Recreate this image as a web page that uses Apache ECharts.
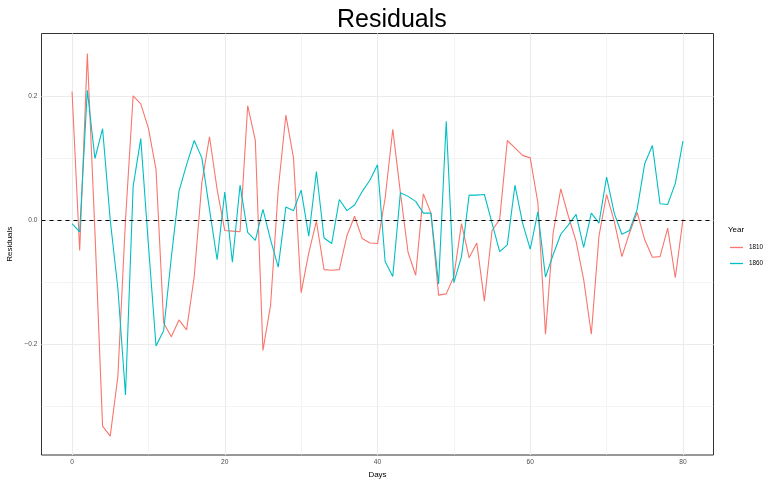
<!DOCTYPE html>
<html><head><meta charset="utf-8">
<script src="https://cdn.jsdelivr.net/npm/echarts@6/dist/echarts.min.js"></script>
<style>html,body{margin:0;padding:0;background:#fff}#c{width:769px;height:479px}</style>
</head><body><div id="c"></div>
<script>
const days = [0,1,2,3,4,5,6,7,8,9,10,11,12,13,14,15,16,17,18,19,20,21,22,23,24,25,26,27,28,29,30,31,32,33,34,35,36,37,38,39,40,41,42,43,44,45,46,47,48,49,50,51,52,53,54,55,56,57,58,59,60,61,62,63,64,65,66,67,68,69,70,71,72,73,74,75,76,77,78,79,80];
const years = ['1810', '1860'];
const res1810 = [0.207,-0.049,0.268,-0.02,-0.332,-0.348,-0.252,0.0,0.2,0.187,0.148,0.081,-0.166,-0.188,-0.161,-0.177,-0.091,0.06,0.134,0.049,-0.017,-0.018,-0.019,0.184,0.128,-0.21,-0.137,0.049,0.169,0.1,-0.117,-0.053,-0.002,-0.08,-0.081,-0.08,-0.025,0.006,-0.03,-0.037,-0.038,0.035,0.146,0.044,-0.052,-0.089,0.042,0.011,-0.121,-0.119,-0.091,-0.006,-0.061,-0.037,-0.131,-0.017,0.001,0.128,0.116,0.104,0.1,0.028,-0.184,-0.021,0.05,0.006,-0.034,-0.096,-0.184,-0.026,0.041,-0.002,-0.059,-0.021,0.012,-0.032,-0.06,-0.059,-0.013,-0.093,0.001];
const res1860 = [-0.006,-0.019,0.209,0.099,0.147,0.0,-0.11,-0.282,0.054,0.131,-0.04,-0.203,-0.178,-0.06,0.046,0.089,0.128,0.1,0.017,-0.064,0.045,-0.068,0.056,-0.02,-0.033,0.017,-0.032,-0.076,0.021,0.015,0.048,-0.026,0.078,-0.029,-0.038,0.033,0.015,0.024,0.046,0.064,0.089,-0.067,-0.091,0.044,0.038,0.03,0.011,0.011,-0.103,0.159,-0.101,-0.059,0.04,0.04,0.041,-0.005,-0.051,-0.04,0.056,-0.005,-0.047,0.013,-0.092,-0.056,-0.023,-0.008,0.009,-0.044,0.011,-0.005,0.069,0.011,-0.023,-0.017,0.017,0.091,0.12,0.026,0.025,0.059,0.127];
const xTicks = [0, 20, 40, 60, 80];
const xMinor = [10, 30, 50, 70];
const yTicks = [-0.2, 0, 0.2];
const yLabels = ['\u22120.2', '0.0', '0.2'];
const yMinor = [-0.3, -0.1, 0.1];
const refLine = 0;

const FONT = 'Liberation Sans, Arial, Helvetica, sans-serif';
const colors = ['#F8766D', '#00BFC4'];
const chart = echarts.init(document.getElementById('c'), null, {renderer: 'canvas'});

const gridLines = [];
xMinor.forEach(v => gridLines.push({xAxis: v, lineStyle: {width: 0.55}}));
yMinor.forEach(v => gridLines.push({yAxis: v, lineStyle: {width: 0.55}}));
xTicks.forEach(v => gridLines.push({xAxis: v, lineStyle: {width: 1.1}}));
yTicks.forEach(v => gridLines.push({yAxis: v, lineStyle: {width: 1.1}}));

const seriesData = [res1810, res1860].map(arr => days.map((d, i) => [d, arr[i]]));

chart.setOption({
  animation: false,
  textStyle: {fontFamily: FONT},
  title: [
    {text: 'Residuals', left: 337, top: 8, padding: 0,
     textStyle: {fontSize: 25, fontWeight: 'normal', color: '#000', fontFamily: FONT}},
    {text: 'Year', left: 728, top: 225.5, padding: 0,
     textStyle: {fontSize: 8, fontWeight: 'normal', color: '#000', fontFamily: FONT}}
  ],
  legend: {
    orient: 'vertical', left: 730, top: 242.5, padding: 0,
    itemWidth: 13, itemHeight: 1.3, itemGap: 6, icon: 'rect',
    data: years,
    textStyle: {fontSize: 6.3, color: '#000', fontFamily: FONT, lineHeight: 10, padding: [0,0,0,1]}
  },
  grid: {left: 41.5, right: 55.5, top: 33.5, bottom: 24, show: true, outerBoundsMode: 'none', containLabel: false,
         borderColor: '#333333', borderWidth: 1, backgroundColor: 'transparent'},
  xAxis: {
    type: 'value', min: -4, max: 84,
    name: 'Days', nameLocation: 'middle', nameGap: 15,
    nameTextStyle: {fontSize: 8, color: '#000', fontFamily: FONT},
    axisLine: {show: false},
    axisTick: {show: true, customValues: xTicks, length: 3, lineStyle: {color: '#333333', width: 1}},
    axisLabel: {customValues: xTicks, fontSize: 6.6, color: '#4D4D4D', margin: 4, fontFamily: FONT},
    splitLine: {show: false}
  },
  yAxis: {
    type: 'value', min: -0.3785, max: 0.3003,
    name: 'Residuals', nameLocation: 'middle', nameGap: 23, nameRotate: 90,
    nameTextStyle: {fontSize: 8, color: '#000', fontFamily: FONT},
    axisLine: {show: false},
    axisTick: {show: true, customValues: yTicks, length: 3, lineStyle: {color: '#333333', width: 1}},
    axisLabel: {customValues: yTicks, fontSize: 6.6, color: '#4D4D4D', margin: 4, fontFamily: FONT,
      formatter: v => { const i = yTicks.findIndex(t => Math.abs(t - v) < 1e-9); return i >= 0 ? yLabels[i] : String(v); }},
    splitLine: {show: false}
  },
  series: [
    {
      type: 'line', name: '__grid', data: [], silent: true, z: 1,
      markLine: {silent: true, symbol: 'none', label: {show: false}, animation: false, z: 1,
        lineStyle: {color: '#EBEBEB', type: 'solid'}, data: gridLines}
    },
    {
      type: 'line', name: years[0], data: seriesData[0], showSymbol: false, symbol: 'none',
      color: colors[0], lineStyle: {color: colors[0], width: 1.1}, z: 3
    },
    {
      type: 'line', name: years[1], data: seriesData[1], showSymbol: false, symbol: 'none',
      color: colors[1], lineStyle: {color: colors[1], width: 1.1}, z: 4,
      markLine: {silent: true, symbol: 'none', label: {show: false}, animation: false, z: 10,
        lineStyle: {color: '#000', type: [4, 4], width: 1.1}, data: [{yAxis: refLine}]}
    }
  ]
});
</script>
</body></html>
